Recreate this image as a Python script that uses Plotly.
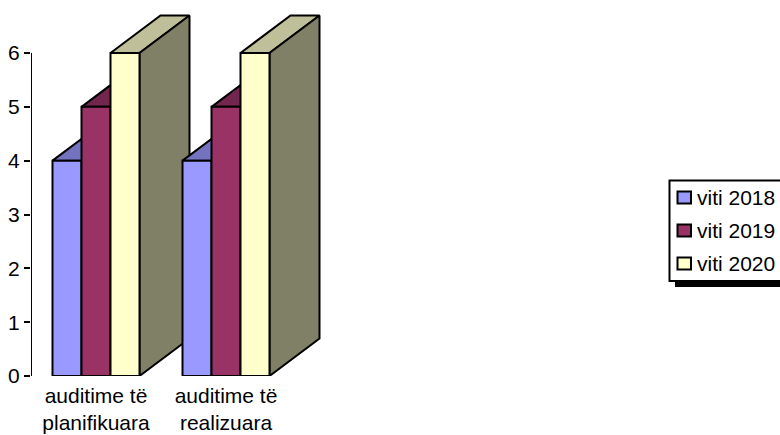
import plotly.graph_objects as go

categories = ["auditime të<br>planifikuara", "auditime të<br>realizuara"]
series_names = ["viti 2018", "viti 2019", "viti 2020"]
values_2018 = [4, 4]
values_2019 = [5, 5]
values_2020 = [6, 6]
tick_values = [0, 1, 2, 3, 4, 5, 6]

front_colors = ["#9999FF", "#993366", "#FFFFCC"]
top_colors = ["#7373BF", "#73264D", "#BFBF99"]
side_colors = ["#4D4D80", "#4D1A33", "#808066"]

W, H = 780, 435
FONT = dict(family="Liberation Sans, Arial, sans-serif", size=21, color="black")
LINE = dict(color="black", width=2)

# plot rectangle, in pixels; the domain runs past the last category and past
# the top tick so the receding column faces stay inside the clip area
LEFT, RIGHT, Y_ZERO, Y_SIX, Y_TOP = 31, 331, 376, 53, 10
unit_x = 130                   # pixels per category
unit_y = (Y_ZERO - Y_SIX) / 6  # pixels per value unit

BAR_W = 29 / unit_x
DEPTH_X = 50 / unit_x
DEPTH_Y = 37.5 / unit_y
X_START = -0.5


def face(xs, ys, color):
    return go.Scatter(
        x=xs + xs[:1], y=ys + ys[:1], mode="lines", fill="toself", fillcolor=color,
        line=LINE, hoverinfo="skip", showlegend=False,
    )


fig = go.Figure()
all_values = [values_2018, values_2019, values_2020]

# 3D columns painted back to front: top and side first, then the front face
for c in range(len(categories)):
    for s, vals in enumerate(all_values):
        v = vals[c]
        x0 = c + (s - 1.5) * BAR_W
        x1 = x0 + BAR_W
        fig.add_trace(face([x0, x1, x1 + DEPTH_X, x0 + DEPTH_X],
                           [v, v, v + DEPTH_Y, v + DEPTH_Y], top_colors[s]))
        fig.add_trace(face([x1, x1 + DEPTH_X, x1 + DEPTH_X, x1],
                           [0, DEPTH_Y, v + DEPTH_Y, v], side_colors[s]))
        fig.add_trace(face([x0, x1, x1, x0], [0, 0, v, v], front_colors[s]))


def px(x):
    return x / W


def py(y):
    return 1 - y / H


# value axis line stops at the top tick
shapes = [dict(type="line", xref="x", yref="y", layer="above",
               x0=X_START, x1=X_START, y0=tick_values[0], y1=tick_values[-1],
               line=LINE)]
annotations = []


def rect(x0, y0, x1, y1, fill, line_width=0):
    shapes.append(dict(
        type="rect", xref="paper", yref="paper", layer="above",
        x0=px(x0), x1=px(x1), y0=py(y0), y1=py(y1), fillcolor=fill,
        line=dict(color="black", width=line_width),
    ))


# legend box with its drop shadow
rect(675, 186, 790, 287, "black")
rect(669.5, 180.5, 790, 281, "white", 2)
for name, color, cy in zip(series_names, front_colors, [197.5, 230.5, 263.5]):
    rect(677.5, cy - 6, 691, cy + 6, color, 2)
    annotations.append(dict(
        text=name, xref="paper", yref="paper", x=px(695), y=py(cy),
        xanchor="left", yanchor="middle", showarrow=False, font=FONT,
    ))

fig.update_layout(
    width=W, height=H, margin=dict(l=0, r=0, t=0, b=0),
    paper_bgcolor="white", plot_bgcolor="white", showlegend=False,
    font=FONT, shapes=shapes, annotations=annotations,
    xaxis=dict(
        domain=[px(LEFT), px(RIGHT)], range=[X_START, X_START + (RIGHT - LEFT) / unit_x],
        showgrid=False, zeroline=False, showline=False, ticks="",
        tickvals=list(range(len(categories))), ticktext=categories, tickfont=FONT,
        ticklabelstandoff=5, automargin=False,
    ),
    yaxis=dict(
        domain=[py(Y_ZERO), py(Y_TOP)], range=[0, (Y_ZERO - Y_TOP) / unit_y],
        showgrid=False, zeroline=False, showline=False, ticks="outside", ticklen=6,
        tickwidth=2, tickcolor="black", tickvals=tick_values, tickfont=FONT,
        automargin=False,
    ),
)

fig.write_html("out.html", config=dict(displayModeBar=False))
